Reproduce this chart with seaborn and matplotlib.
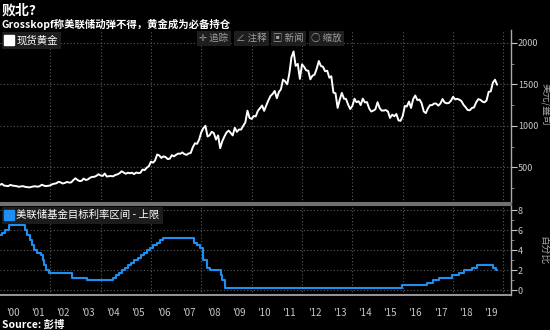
import numpy as np
import pandas as pd
import matplotlib
matplotlib.use("Agg")
import matplotlib.pyplot as plt
import matplotlib.dates as mdates
from matplotlib.lines import Line2D
import seaborn as sns

# ---------------- data ----------------
gold_start = "2000-01-01"
gold_prices = [
    289, 300, 280, 276, 273, 288, 280, 276, 273, 265, 270, 273,
    265, 262, 258, 263, 270, 271, 266, 273, 290, 279, 274, 277,
    282, 297, 302, 308, 326, 318, 305, 312, 324, 316, 318, 345,
    368, 347, 334, 337, 364, 347, 354, 374, 385, 385, 397, 416,
    402, 396, 425, 388, 393, 395, 391, 407, 415, 428, 452, 438,
    422, 435, 428, 435, 418, 437, 430, 434, 473, 466, 495, 513,
    568, 556, 582, 654, 643, 613, 632, 623, 599, 604, 646, 632,
    651, 666, 662, 679, 659, 650, 666, 673, 743, 789, 783, 834,
    923, 972, 1000, 871, 886, 928, 912, 834, 884, 730, 815, 870,
    919, 942, 916, 884, 976, 927, 955, 955, 1001, 1040, 1182, 1095,
    1083, 1118, 1113, 1180, 1212, 1244, 1180, 1246, 1307, 1359, 1384, 1420,
    1332, 1409, 1439, 1556, 1536, 1500, 1628, 1825, 1895, 1722, 1746, 1565,
    1740, 1710, 1668, 1663, 1560, 1604, 1615, 1687, 1780, 1720, 1711, 1657,
    1663, 1579, 1597, 1400, 1392, 1215, 1313, 1396, 1327, 1323, 1253, 1202,
    1240, 1326, 1284, 1296, 1250, 1327, 1282, 1285, 1210, 1172, 1183, 1199,
    1284, 1213, 1183, 1184, 1190, 1172, 1095, 1134, 1115, 1142, 1065, 1060,
    1118, 1238, 1233, 1292, 1215, 1322, 1365, 1309, 1316, 1272, 1174, 1152,
    1211, 1249, 1249, 1268, 1268, 1242, 1269, 1322, 1280, 1271, 1275, 1303,
    1350, 1318, 1325, 1315, 1299, 1253, 1224, 1190, 1187, 1215, 1222, 1282,
    1321, 1313, 1292, 1283, 1305, 1409, 1414, 1520, 1555, 1495,
]
fed_dates = ['2000-01-01', '2000-02-02', '2000-03-21', '2000-05-16', '2001-01-03', '2001-01-31',
             '2001-03-20', '2001-04-18', '2001-05-15', '2001-06-27', '2001-08-21', '2001-09-17',
             '2001-10-02', '2001-11-06', '2001-12-11', '2002-11-06', '2003-06-25', '2004-06-30',
             '2004-08-10', '2004-09-21', '2004-11-10', '2004-12-14', '2005-02-02', '2005-03-22',
             '2005-05-03', '2005-06-30', '2005-08-09', '2005-09-20', '2005-11-01', '2005-12-13',
             '2006-01-31', '2006-03-28', '2006-05-10', '2006-06-29', '2007-09-18', '2007-10-31',
             '2007-12-11', '2008-01-22', '2008-01-30', '2008-03-18', '2008-04-30', '2008-10-08',
             '2008-10-29', '2008-12-16', '2015-12-16', '2016-12-14', '2017-03-15', '2017-06-14',
             '2017-12-13', '2018-03-21', '2018-06-13', '2018-09-26', '2018-12-19', '2019-07-31',
             '2019-09-18', '2019-10-01']
fed_values = [5.5, 5.75, 6.0, 6.5, 6.0, 5.5, 5.0, 4.5, 4.0, 3.75, 3.5, 3.0, 2.5, 2.0, 1.75,
              1.25, 1.0, 1.25, 1.5, 1.75, 2.0, 2.25, 2.5, 2.75, 3.0, 3.25, 3.5, 3.75, 4.0, 4.25,
              4.5, 4.75, 5.0, 5.25, 4.75, 4.5, 4.25, 3.5, 3.0, 2.25, 2.0, 1.5, 1.0, 0.25, 0.5,
              0.75, 1.0, 1.25, 1.5, 1.75, 2.0, 2.25, 2.5, 2.25, 2.0, 2.0]
years = list(range(2000, 2020))
year_labels = ["'%02d" % (y % 100) for y in years]
gold_ticks = [500, 1000, 1500, 2000]
rate_ticks = [0, 2, 4, 6, 8]

title = "败北?"
subtitle = "Grosskopf称美联储动弹不得，黄金成为必备持仓"
gold_name = "现货黄金"
fed_name = "美联储基金目标利率区间 - 上限"
gold_unit = "美元/盎司"
rate_unit = "百分比"
source = "Source: 彭博"

gold_df = pd.DataFrame({"date": pd.date_range(gold_start, periods=len(gold_prices), freq="MS"),
                        "price": gold_prices})
fed_df = pd.DataFrame({"date": pd.to_datetime(fed_dates), "rate": fed_values})

# ---------------- style ----------------
sns.set_theme(style="dark", rc={
    "figure.facecolor": "black", "axes.facecolor": "black",
    "axes.edgecolor": "#888888", "text.color": "white",
    "xtick.color": "#bbbbbb", "ytick.color": "#bbbbbb",
})
plt.rcParams["font.family"] = ["Noto Sans CJK SC", "DejaVu Sans"]

BG = "black"
GRID = "#5a5a5a"
TICKC = "#c8c8c8"
BLUE = "#1f8ef1"

fig = plt.figure(figsize=(5.5, 3.3), dpi=100)
fig.patch.set_facecolor(BG)
W, H = 550, 330
def rect(x0, y0, x1, y1):
    return [x0 / W, 1 - y1 / H, (x1 - x0) / W, (y1 - y0) / H]

ax1 = fig.add_axes(rect(0, 30, 511, 203))
ax2 = fig.add_axes(rect(0, 205, 511, 295))

xmin = pd.Timestamp("2000-01-03")
xmax = pd.Timestamp("2020-04-20")

sns.lineplot(data=gold_df, x="date", y="price", ax=ax1, color="white", linewidth=1.4)
sns.lineplot(data=fed_df, x="date", y="rate", ax=ax2, color=BLUE, linewidth=1.5,
             drawstyle="steps-post")

for ax in (ax1, ax2):
    ax.set_facecolor(BG)
    ax.set_xlim(xmin, xmax)
    ax.set_xlabel("")
    ax.set_ylabel("")
    ax.grid(False)
    for s in ("left", "top"):
        ax.spines[s].set_visible(False)
    ax.spines["right"].set_color("#aaaaaa")
    ax.spines["right"].set_linewidth(1.0)
    ax.yaxis.tick_right()
    ax.tick_params(axis="y", which="major", direction="out", length=4, width=0.8,
                   colors=TICKC, labelsize=6.5, pad=1)
    ax.tick_params(axis="y", which="minor", direction="out", length=2.5, width=0.6,
                   colors="#999999")
    # vertical dotted gridlines every two years
    for y in years[2::2] + [2020]:
        ax.axvline(pd.Timestamp(f"{y}-01-01"), color=GRID, lw=0.8, ls=(0, (1, 2)), zorder=0)

# top panel
ax1.set_ylim(70, 2154)
ax1.set_yticks(gold_ticks)
ax1.set_yticks([250, 750, 1250, 1750], minor=True)
for v in gold_ticks:
    ax1.axhline(v, color=GRID, lw=0.8, ls=(0, (1, 2)), zorder=0)
ax1.set_xticks([])
ax1.spines["bottom"].set_color("#707070")
ax1.spines["bottom"].set_linewidth(1.5)

# bottom panel
ax2.set_ylim(-0.5, 8.5)
ax2.set_yticks(rate_ticks)
ax2.set_yticks([1, 3, 5, 7], minor=True)
for v in rate_ticks:
    ax2.axhline(v, color=GRID, lw=0.8, ls=(0, (1, 2)), zorder=0)
ax2.spines["top"].set_visible(True)
ax2.spines["top"].set_color("#707070")
ax2.spines["top"].set_linewidth(1.5)
ax2.spines["bottom"].set_color("#aaaaaa")
ax2.xaxis.set_major_locator(mdates.YearLocator(1))
ax2.xaxis.set_major_formatter(plt.NullFormatter())
ax2.set_xticks([pd.Timestamp(f"{y}-07-02") for y in years], minor=True)
ax2.set_xticklabels(year_labels, minor=True)
ax2.tick_params(axis="x", which="major", direction="out", length=21, width=0.8, colors="#777777")
ax2.tick_params(axis="x", which="minor", length=0, labelsize=7, labelcolor=TICKC, pad=9)

# legends
def sq_legend(ax, color, label):
    h = [Line2D([], [], marker="s", color=color, linestyle="", markersize=6.5)]
    leg = ax.legend(h, [label], loc="upper left", frameon=True, fontsize=7.5,
                    handletextpad=0.25, handlelength=0.8, borderpad=0.35,
                    borderaxespad=0.15, labelcolor="white")
    leg.get_frame().set_facecolor("#1c1c1c")
    leg.get_frame().set_edgecolor("none")
    leg.get_frame().set_alpha(1)
    leg.get_frame().set_boxstyle("square", pad=0)
sq_legend(ax1, "white", gold_name)
sq_legend(ax2, BLUE, fed_name)

# toolbar
tb = [("✛ 追踪", 199), ("∠ 注释", 236), ("▣ 新闻", 273), ("○ 缩放", 311)]
for t, x in tb:
    fig.text(x / W, 1 - 38.5 / H, t, fontsize=6.8, color="#a0a0a0", va="center", ha="left",
             bbox=dict(facecolor="#1e1e1e", edgecolor="none", pad=1.8))

# titles
fig.text(2 / W, 1 - 11 / H, title, fontsize=10, fontweight="bold", color="white", va="center")
fig.text(2 / W, 1 - 24.5 / H, subtitle, fontsize=7.5, fontweight="bold", color="white", va="center")
fig.text(2 / W, 1 - 324.5 / H, source, fontsize=7.5, fontweight="bold", color="white", va="center")

# axis units
fig.text(545 / W, 1 - 104 / H, gold_unit, rotation=270, fontsize=7, color="#aaaaaa",
         va="center", ha="center")
fig.text(545 / W, 1 - 250 / H, rate_unit, rotation=270, fontsize=7, color="#aaaaaa",
         va="center", ha="center")

fig.savefig("out.png", dpi=100, facecolor=BG)
